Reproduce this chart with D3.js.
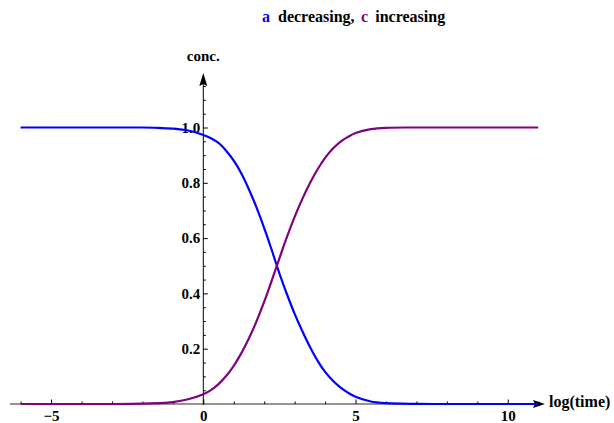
<!DOCTYPE html>
<html>
<head>
<meta charset="utf-8">
<script src="https://cdn.jsdelivr.net/npm/d3@7"></script>
<style>
  html, body { margin: 0; padding: 0; background: #fff; }
</style>
</head>
<body>
<svg id="chart" width="614" height="423"></svg>
<script>
// ---- data ----
const logTime = [-6,-5,-4,-3,-2,-1.5,-1,-0.5,
  0,0.25,0.5,0.75,1,1.25,1.5,1.75,2,2.25,2.5,2.75,3,3.25,3.5,3.75,4,4.25,4.5,4.75,5,
  5.5,6,7,8,9,10,11];
const aConc = [1,1,1,1,1,0.999,0.996,0.989,
  0.973,0.961,0.944,0.916,0.880,0.834,0.776,0.710,0.636,0.556,0.472,0.396,0.326,0.264,0.207,0.157,0.116,0.085,0.060,0.041,0.026,
  0.009,0.003,0.0005,0,0,0,0];
const cConc = [0,0,0,0,0.001,0.003,0.007,0.017,
  0.035,0.050,0.072,0.101,0.138,0.184,0.238,0.300,0.370,0.447,0.527,0.605,0.677,0.741,0.798,0.848,0.890,0.923,0.948,0.966,0.980,
  0.994,0.999,1,1,1,1,1];
const xMajorTicks = [-5, 0, 5, 10];
const xMinorTicks = [-6,-4,-3,-2,-1,1,2,3,4,6,7,8,9,11];
const yMajorTicks = [0.2, 0.4, 0.6, 0.8, 1.0];
const yMinorTicks = [0.05,0.1,0.15,0.25,0.3,0.35,0.45,0.5,0.55,0.65,0.7,0.75,0.85,0.9,0.95,1.05,1.1,1.15];

const FONT = "'Liberation Serif', Tinos, 'Times New Roman', Times, 'DejaVu Serif', serif";

const svg = d3.select("#chart");
const x = d3.scaleLinear().domain([0, 10]).range([203.3, 507.8]);
const y = d3.scaleLinear().domain([0, 1]).range([404, 127.5]);

// axes lines with arrow heads
const axisG = svg.append("g");
const xLeft = 10, xTip = 545;
axisG.append("line").attr("x1", xLeft).attr("x2", xTip - 8).attr("y1", y(0)).attr("y2", y(0))
  .attr("stroke", "#707070").attr("stroke-width", 1.6);
axisG.append("path")
  .attr("d", `M${xTip},${y(0)} L${xTip - 12},${y(0) - 4} L${xTip - 10},${y(0)} L${xTip - 12},${y(0) + 4} Z`)
  .attr("fill", "#000");
const yTip = 73;
axisG.append("line").attr("x1", x(0)).attr("x2", x(0)).attr("y1", y(0) + 1).attr("y2", yTip + 8)
  .attr("stroke", "#000").attr("stroke-width", 1);
axisG.append("path")
  .attr("d", `M${x(0)},${yTip} L${x(0) - 4},${yTip + 13} L${x(0)},${yTip + 11} L${x(0) + 4},${yTip + 13} Z`)
  .attr("fill", "#000");

// x ticks (pointing up)
const xAxisMinor = d3.axisBottom(x).tickValues(xMinorTicks).tickSize(-2.5).tickFormat("");
const xAxisMajor = d3.axisBottom(x).tickValues(xMajorTicks).tickSize(-4.5).tickPadding(0)
  .tickFormat(d3.format("d"));
const gxm = svg.append("g").attr("transform", `translate(0,${y(0)})`).call(xAxisMinor);
const gxM = svg.append("g").attr("transform", `translate(0,${y(0)})`).call(xAxisMajor);
[gxm, gxM].forEach(g => { g.select(".domain").remove(); g.selectAll("line").attr("stroke", "#000"); });
gxM.selectAll("text").attr("y", 16.8).attr("dy", null).attr("fill", "#000").attr("font-size", 15);

// y ticks (pointing right)
const yAxisMinor = d3.axisLeft(y).tickValues(yMinorTicks).tickSize(-2.5).tickFormat("");
const yAxisMajor = d3.axisLeft(y).tickValues(yMajorTicks).tickSize(-4.5).tickFormat(d3.format(".1f"));
const gym = svg.append("g").attr("transform", `translate(${x(0)},0)`).call(yAxisMinor);
const gyM = svg.append("g").attr("transform", `translate(${x(0)},0)`).call(yAxisMajor);
[gym, gyM].forEach(g => { g.select(".domain").remove(); g.selectAll("line").attr("stroke", "#000"); });
gyM.selectAll("text").attr("x", -3).attr("fill", "#000").attr("font-size", 15);

// curves
const line = d3.line().x(d => x(d[0])).y(d => y(d[1])).curve(d3.curveCatmullRom.alpha(0.5));
svg.append("path").datum(logTime.map((t, i) => [t, aConc[i]]))
  .attr("d", line).attr("fill", "none").attr("stroke", "#0000ff").attr("stroke-width", 2.2);
svg.append("path").datum(logTime.map((t, i) => [t, cConc[i]]))
  .attr("d", line).attr("fill", "none").attr("stroke", "#800080").attr("stroke-width", 2.2);

// axis labels
svg.append("text").attr("x", x(0)).attr("y", 61).attr("text-anchor", "middle")
  .attr("font-size", 15).attr("fill", "#000").text("conc.");
svg.append("text").attr("x", 549).attr("y", 407).attr("text-anchor", "start")
  .attr("font-size", 16).attr("fill", "#000").text("log(time)");

// title
const title = svg.append("text").attr("x", 262).attr("y", 21.5).attr("font-size", 16).attr("fill", "#000");
title.append("tspan").attr("fill", "#0000ff").text("a");
title.append("tspan").attr("dx", 8).text("decreasing,");
title.append("tspan").attr("dx", 6.5).attr("fill", "#800080").text("c");
title.append("tspan").attr("dx", 7).text("increasing");

// serif bold for every text
svg.selectAll("g").attr("font-family", null);
svg.selectAll("text").attr("font-family", FONT).attr("font-weight", "bold")
  .style("font-family", FONT).style("font-weight", "bold");
</script>
</body>
</html>
